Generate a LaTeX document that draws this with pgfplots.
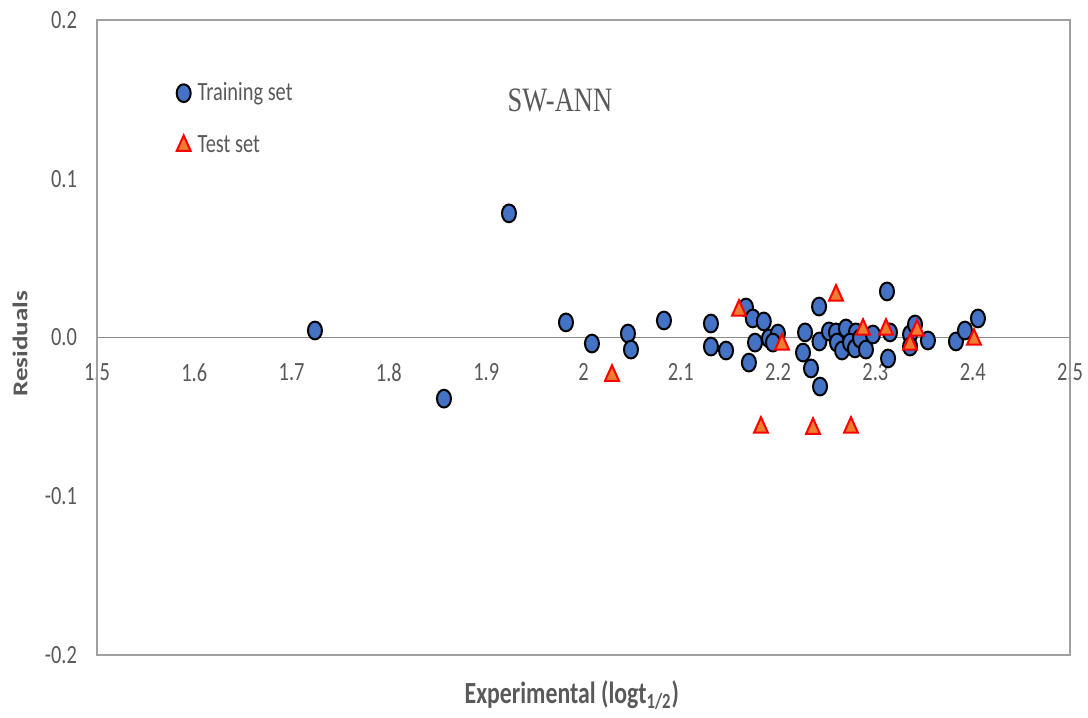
\documentclass[border=0pt]{standalone}
\usepackage{pgfplots}
\pgfplotsset{compat=1.18}
\usepackage{fontspec}
\setmainfont{Carlito}
\newfontfamily\seriffont{Liberation Serif}
\definecolor{tblue}{HTML}{4472C4}
\definecolor{torange}{HTML}{ED7D31}
\definecolor{tgray}{HTML}{595959}
\definecolor{fgray}{HTML}{A0A0A0}
\definecolor{zgray}{HTML}{8C8C8C}
\pgfplotsset{shortleg/.style={legend image code/.code={\draw[mark repeat=2,mark phase=2,##1] plot coordinates {(0cm,0cm) (0.15cm,0cm) (0.3cm,0cm)}; \path[draw=none,fill=none] (0.15cm,0cm) -- (0.36cm,0cm);}}}
\begin{document}
\begin{tikzpicture}
\path[use as bounding box] (0,0) rectangle (544pt,359pt);
\begin{axis}[
  at={(48.5pt,31.5pt)}, anchor=south west,
  width=486.5pt, height=317.5pt, scale only axis,
  xmin=1.5, xmax=2.5, ymin=-0.2, ymax=0.2,
  axis x line*=middle, axis y line*=left,
  hide obscured x ticks=false,
  clip=false,
  y axis line style={draw=fgray, line width=0.8pt},
  x axis line style={draw=zgray, line width=0.7pt},
  major tick length=0pt,
  xtick={1.5,1.6,1.7,1.8,1.9,2,2.1,2.2,2.3,2.4,2.5},
  xticklabels={1.5,1.6,1.7,1.8,1.9,2,2.1,2.2,2.3,2.4,2.5},
  ytick={-0.2,-0.1,0,0.1,0.2},
  yticklabels={-0.2,-0.1,0.0,0.1,0.2},
  tick label style={font=\fontsize{10.2pt}{12pt}\selectfont, text=tgray, yscale=1.29},
  xticklabel style={anchor=north, yshift=-6.5pt},
  yticklabel style={anchor=east, xshift=-6.5pt},
  every axis x label/.style={at={(axis description cs:0.488,0)}, anchor=center, yshift=-20pt, yscale=1.29, font=\bfseries\fontsize{11.9pt}{14pt}\selectfont},
  every axis y label/.style={at={(axis description cs:0,0.49)}, anchor=center, xshift=-38.5pt, rotate=90, xscale=1.29, font=\bfseries\fontsize{10.5pt}{12pt}\selectfont},
  label style={text=tgray},
  xlabel={Experimental (logt\textsubscript{1/2})},
  ylabel={Residuals},
  legend cell align=left,
  legend style={draw=none, fill=none, inner sep=0pt,
    at={(axis cs:1.5815,0.1627)}, anchor=north west,
    row sep=13pt,
    font=\fontsize{10.2pt}{12pt}\selectfont, text=tgray,
    nodes={inner sep=1pt, yscale=1.29}},
  after end axis/.code={\draw[fgray, line width=0.8pt] (rel axis cs:0,0) rectangle (rel axis cs:1,1);},
]
\addplot[only marks, mark=*, mark size=3.5pt,
  mark options={draw=black, fill=tblue, line width=1pt, yscale=1.27}, shortleg]
coordinates {
(1.724,0.0044)
(1.8566,-0.0385)
(1.9234,0.0782)
(1.982,0.0095)
(2.0087,-0.0038)
(2.0457,0.0025)
(2.0488,-0.0076)
(2.0827,0.0107)
(2.131,0.0088)
(2.131,-0.0057)
(2.1465,-0.0082)
(2.167,0.0189)
(2.174,0.012)
(2.1853,0.0101)
(2.1763,-0.0032)
(2.170,-0.0158)
(2.1906,-0.0006)
(2.1998,0.0025)
(2.1947,-0.0032)
(2.2277,0.0032)
(2.2425,-0.0025)
(2.2256,-0.0095)
(2.2338,-0.0195)
(2.2431,-0.0309)
(2.2421,0.0195)
(2.3119,0.029)
(2.2523,0.0038)
(2.2595,0.0032)
(2.2697,0.0057)
(2.28,0.0032)
(2.2605,-0.0032)
(2.2657,-0.0082)
(2.2739,-0.0032)
(2.279,-0.0069)
(2.2842,-0.0006)
(2.2903,-0.0076)
(2.2975,0.0019)
(2.315,0.0032)
(2.313,-0.0132)
(2.3356,0.0019)
(2.3407,0.0082)
(2.3356,-0.0057)
(2.354,-0.0019)
(2.3828,-0.0025)
(2.392,0.0044)
(2.4054,0.012)
};
\addlegendentry{Training set}
\addplot[only marks, mark=triangle*, mark size=4pt,
  mark options={draw=red, fill=torange, line width=1pt, yscale=1.29}, shortleg]
coordinates {
(2.0293,-0.024)
(2.1598,0.017)
(2.204,-0.0044)
(2.1824,-0.0567)
(2.2359,-0.0574)
(2.2749,-0.0567)
(2.2595,0.0265)
(2.2873,0.005)
(2.3109,0.005)
(2.3356,-0.0044)
(2.3428,0.0044)
(2.4013,-0.0013)
};
\addlegendentry{Test set}
\node[font=\seriffont\fontsize{13.25pt}{15pt}\selectfont, text=tgray, yscale=1.29, anchor=center] at (axis cs:1.9758,0.1494) {SW-ANN};
\end{axis}
\end{tikzpicture}
\end{document}
